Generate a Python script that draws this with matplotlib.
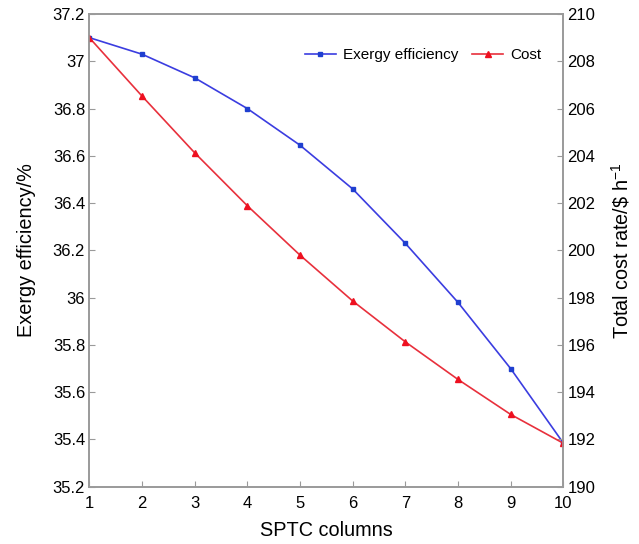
import matplotlib
matplotlib.use("Agg")
import matplotlib.pyplot as plt

# SPTC columns vs exergy efficiency (left axis) and total cost rate (right axis)
columns = [1, 2, 3, 4, 5, 6, 7, 8, 9, 10]
exergy_eff = [37.10, 37.03, 36.93, 36.80, 36.645, 36.46, 36.23, 35.98, 35.70, 35.385]
cost_rate = [209.0, 206.53, 204.13, 201.89, 199.80, 197.86, 196.13, 194.54, 193.06, 191.84]

plt.rcParams["font.family"] = ["Liberation Sans", "DejaVu Sans"]
plt.rcParams["mathtext.fontset"] = "custom"
plt.rcParams["mathtext.rm"] = "Liberation Sans"
plt.rcParams["mathtext.it"] = "Liberation Sans"

BLUE = "#3b3de0"
RED = "#e8303c"
FRAME = "#9a9a9a"

fig = plt.figure(figsize=(6.39, 5.44), dpi=100)
ax = fig.add_axes([0.1397, 0.1053, 0.7418, 0.8690])
ax2 = ax.twinx()

l1, = ax.plot(columns, exergy_eff, color=BLUE, lw=1.2, marker="s", ms=3.5,
              mfc="#1f3fd0", mec="#1f3fd0", label="Exergy efficiency")
l2, = ax2.plot(columns, cost_rate, color=RED, lw=1.2, marker="^", ms=4.5,
               mfc="#ee1020", mec="#ee1020", label="Cost")

ax.set_xlim(1, 10)
ax.set_ylim(35.2, 37.2)
ax2.set_ylim(190, 210)
ax.set_xticks(columns)
ax.set_yticks([35.2 + 0.2 * i for i in range(11)])
ax.set_yticklabels([f"{35.2 + 0.2 * i:g}" for i in range(11)])
ax2.set_yticks(range(190, 211, 2))

for a in (ax, ax2):
    for s in a.spines.values():
        s.set_color(FRAME)
        s.set_linewidth(1.2)
    a.tick_params(direction="in", length=4, color=FRAME, labelsize=12, pad=3)
ax.tick_params(axis="x", pad=7)

ax.set_xlabel("SPTC columns", fontsize=14.3, labelpad=7)
ax.set_ylabel("Exergy efficiency/%", fontsize=14.3, labelpad=12)
ax2.set_ylabel(r"Total cost rate/\$ h$^{-1}$", fontsize=14.3, labelpad=10)

ax.legend(handles=[l1, l2], loc="center", bbox_to_anchor=(0.705, 0.913), ncol=2,
          frameon=False, fontsize=11, handlelength=2.0, columnspacing=0.9,
          handletextpad=0.5)

fig.savefig("out.png", dpi=100)
